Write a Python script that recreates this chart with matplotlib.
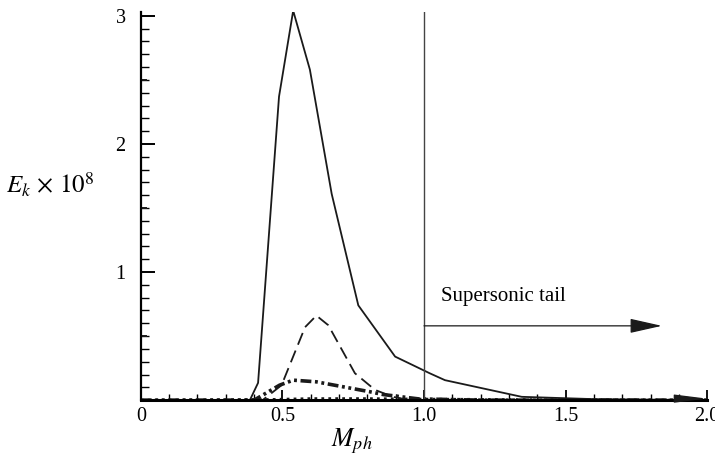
import numpy as np
import matplotlib
matplotlib.use('Agg')
import matplotlib.pyplot as plt
from matplotlib.ticker import MultipleLocator, FixedLocator

plt.rcParams['font.family'] = ['Liberation Serif', 'DejaVu Serif']
plt.rcParams['mathtext.fontset'] = 'stix'

# Curves (M_ph, E_k x 1e8)
m_solid = [0.0, 0.385, 0.414, 0.488, 0.538, 0.597, 0.674, 0.768, 0.898, 1.02, 1.074, 1.345, 1.6, 2.0]
e_solid = [0.0, 0.0, 0.135, 2.37, 3.04, 2.58, 1.61, 0.74, 0.34, 0.21, 0.156, 0.026, 0.008, 0.0]

m_dash = [0.0, 0.43, 0.497, 0.58, 0.62, 0.662, 0.756, 0.827, 0.89, 0.95, 2.0]
e_dash = [0.0, 0.0, 0.117, 0.57, 0.66, 0.585, 0.21, 0.08, 0.026, 0.0, 0.0]

m_dd = [0.0, 0.40, 0.42, 0.49, 0.538, 0.62, 0.715, 0.81, 0.855, 0.98, 1.2, 2.0]
e_dd = [0.0, 0.0, 0.026, 0.117, 0.156, 0.143, 0.104, 0.065, 0.044, 0.01, 0.0, 0.0]

m_dot = [0.0, 0.45, 0.6, 0.8, 1.0, 1.4, 2.0]
e_dot = [0.0, 0.005, 0.012, 0.012, 0.008, 0.004, 0.0]

fig = plt.figure(figsize=(7.15, 4.61), dpi=100)
ax = fig.add_axes([0.197, 0.132, 0.792, 0.842])

ax.plot(m_solid, e_solid, color='#1a1a1a', lw=1.3)
ax.plot(m_dash, e_dash, color='#1a1a1a', lw=1.3, dashes=(7, 3.5))
ax.plot(m_dd, e_dd, color='#1a1a1a', lw=2.6, dashes=(3, 1, 0.8, 1, 0.8, 1))
ax.plot(m_dot, e_dot, color='#1a1a1a', lw=2.0, dashes=(1, 1.5))

# sonic line and supersonic tail arrow
ax.axvline(1.0, color='#444444', lw=1.0)
ax.annotate('', xy=(1.84, 0.58), xytext=(1.0, 0.58),
            arrowprops=dict(arrowstyle='-|>,head_length=2.0,head_width=0.45',
                            color='#1a1a1a', lw=0.9, shrinkA=0, shrinkB=0))
ax.text(1.06, 0.81, 'Supersonic tail', fontsize=15, va='center', ha='left')
ax.annotate('', xy=(2.0, 0.012), xytext=(1.9, 0.012),
            arrowprops=dict(arrowstyle='-|>,head_length=2.0,head_width=0.25',
                            color='#1a1a1a', lw=0.9, shrinkA=0, shrinkB=0))

ax.set_xlim(0, 2.0)
ax.set_ylim(0, 3.03)

ax.spines['top'].set_visible(False)
ax.spines['right'].set_visible(False)
ax.spines['left'].set_linewidth(1.6)
ax.spines['bottom'].set_linewidth(2.2)

ax.xaxis.set_minor_locator(MultipleLocator(0.1))
ax.set_xticks([0, 0.5, 1.0, 1.5, 2.0])
ax.set_xticklabels(['0', '0.5', '1.0', '1.5', '2.0'])
ax.yaxis.set_major_locator(FixedLocator([1, 2, 3]))
ax.yaxis.set_minor_locator(MultipleLocator(0.1))
ax.set_yticklabels(['1', '2', '3'])
# longer ticks at half units on y
for yv in [0.5, 1.5, 2.5]:
    ax.plot([0, 0.018], [yv, yv], color='#1a1a1a', lw=1.4, clip_on=False)

ax.tick_params(axis='x', which='major', direction='in', length=7, width=1.3,
               labelsize=14.5, pad=5)
ax.tick_params(axis='x', which='minor', direction='in', length=4, width=1.0)
ax.tick_params(axis='y', which='major', direction='in', length=10, width=1.4,
               labelsize=14.5, pad=11)
ax.tick_params(axis='y', which='minor', direction='in', length=6, width=1.0)

ax.set_xlabel(r'$M_{ph}$', fontsize=18.5)
ax.xaxis.set_label_coords(0.373, -0.068)
ax.set_ylabel(r'$E_k\,\times\,10^8$', fontsize=18, rotation=0, va='center')
ax.yaxis.set_label_coords(-0.16, 0.555)

fig.savefig('out.png', dpi=100)
